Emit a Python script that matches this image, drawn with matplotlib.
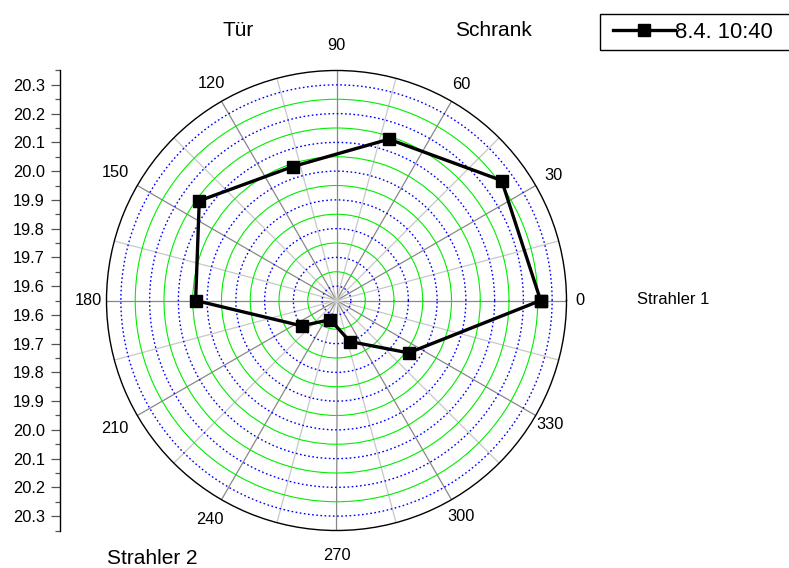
import numpy as np
import matplotlib
matplotlib.use("Agg")
import matplotlib.pyplot as plt
from matplotlib.lines import Line2D
from matplotlib.legend_handler import HandlerLine2D

plt.rcParams['font.family'] = ['Liberation Sans', 'DejaVu Sans']

# ---- data ----
angles_deg = [0, 36, 72, 108, 144, 180, 216, 252, 288, 324]
temps = [20.26, 20.26, 20.14, 20.04, 20.14, 20.04, 19.70, 19.62, 19.70, 19.86]
series_label = "8.4. 10:40"
r_min, r_max = 19.55, 20.35
radial_major = [19.6, 19.7, 19.8, 19.9, 20.0, 20.1, 20.2, 20.3]
radial_minor = [19.65, 19.75, 19.85, 19.95, 20.05, 20.15, 20.25]
theta_labels = ["0", "30", "60", "90", "120", "150", "180", "210", "240", "270", "300", "330"]
corner_labels = [("Tür", 238, 30, 15), ("Schrank", 493, 30, 15),
                 ("Strahler 1", 673, 300, 12), ("Strahler 2", 152, 558, 15)]

W, H = 789, 568
fig = plt.figure(figsize=(W / 100, H / 100), dpi=100)

cx, cy, R = 336.5, 300.5, 230.0
left = (cx - R) / W
bottom = (H - cy - R) / H
ax = fig.add_axes([left, bottom, 2 * R / W, 2 * R / H], projection='polar')
ax.set_theta_zero_location('E')
ax.set_theta_direction(1)
ax.set_ylim(r_min, r_max)

# radial grid
ax.set_yticks(radial_major)
ax.set_yticks(radial_minor, minor=True)
ax.set_yticklabels([])
ax.yaxis.grid(True, which='major', color='#0000ff', linestyle=(0, (1.2, 1.8)), linewidth=1.0)
ax.yaxis.grid(True, which='minor', color='#00ee00', linestyle='-', linewidth=0.8)
ax.tick_params(axis='y', which='both', length=0)

# angular grid
ax.set_xticks(np.deg2rad(np.arange(0, 360, 30)))
ax.set_xticks(np.deg2rad(np.arange(15, 360, 30)), minor=True)
ax.set_xticklabels([])
ax.xaxis.grid(True, which='major', color='#888888', linewidth=0.9)
ax.xaxis.grid(True, which='minor', color='#c8c8c8', linewidth=0.9)
ax.tick_params(axis='x', which='major', direction='in', length=7, width=0.9, color='black')
ax.tick_params(axis='x', which='minor', direction='in', length=4, width=0.9, color='#444444')
ax.spines['polar'].set_color('black')
ax.spines['polar'].set_linewidth(1.0)
ax.set_axisbelow(True)

# angular labels (distance of label centre from the rim, in pixels)
label_gap_px = [13.5, 20, 19, 25, 21, 25.5, 18.5, 25.5, 23, 24.5, 19, 17]
for i, lab in enumerate(theta_labels):
    th = np.deg2rad(30 * i)
    d_pt = label_gap_px[i] * 0.72
    ax.annotate(lab, xy=(th, r_max), xytext=(np.cos(th) * d_pt, np.sin(th) * d_pt),
                textcoords='offset points', ha='center', va='center', fontsize=11.8,
                annotation_clip=False)

# data
th = np.deg2rad(angles_deg + [angles_deg[0]])
rr = temps + [temps[0]]
line, = ax.plot(th, rr, color='black', linewidth=2.4, marker='s', markersize=8.5,
                markerfacecolor='black', markeredgecolor='black', zorder=5, clip_on=False)

# left radial scale axis
axl = fig.add_axes([59.5 / W, bottom, 0.001, 2 * R / H])
axl.set_ylim(-(r_max - r_min), r_max - r_min)
axl.set_xlim(0, 1)
for s in ['top', 'right', 'bottom']:
    axl.spines[s].set_visible(False)
axl.spines['left'].set_linewidth(1.0)
axl.set_xticks([])
maj_pos = [-(v - r_min) for v in radial_major][::-1] + [v - r_min for v in radial_major]
maj_lab = [f"{v:.1f}" for v in radial_major][::-1] + [f"{v:.1f}" for v in radial_major]
axl.set_yticks(maj_pos)
axl.set_yticklabels(maj_lab)
min_pos = [0.0] + [-(v - r_min) for v in radial_minor] + [v - r_min for v in radial_minor] \
    + [-(r_max - r_min), r_max - r_min]
axl.set_yticks(min_pos, minor=True)
axl.tick_params(axis='y', which='major', direction='out', length=6.5, width=0.9,
                color='#555555', labelsize=11.8, pad=4)
axl.tick_params(axis='y', which='minor', direction='out', length=3.5, width=0.9, color='#555555')
axl.patch.set_visible(False)

# corner labels
for txt, x, y, fs in corner_labels:
    fig.text(x / W, 1 - y / H, txt, ha='center', va='center', fontsize=fs)

# legend
handle = Line2D([], [], color='black', linewidth=2.4, marker='s', markersize=8.5)
leg = fig.legend([handle], [series_label], loc='upper left',
                 bbox_to_anchor=(600 / W, 1 - 48 / H, 200 / W, 34 / H), mode='expand',
                 fontsize=15.8, frameon=True, fancybox=False, edgecolor='black', framealpha=1,
                 handlelength=3.07, handletextpad=0.0, borderpad=0.35, borderaxespad=0,
                 handler_map={Line2D: HandlerLine2D(xpad=0.24)})
leg.get_frame().set_linewidth(1.0)

fig.savefig("out.png", dpi=100)
